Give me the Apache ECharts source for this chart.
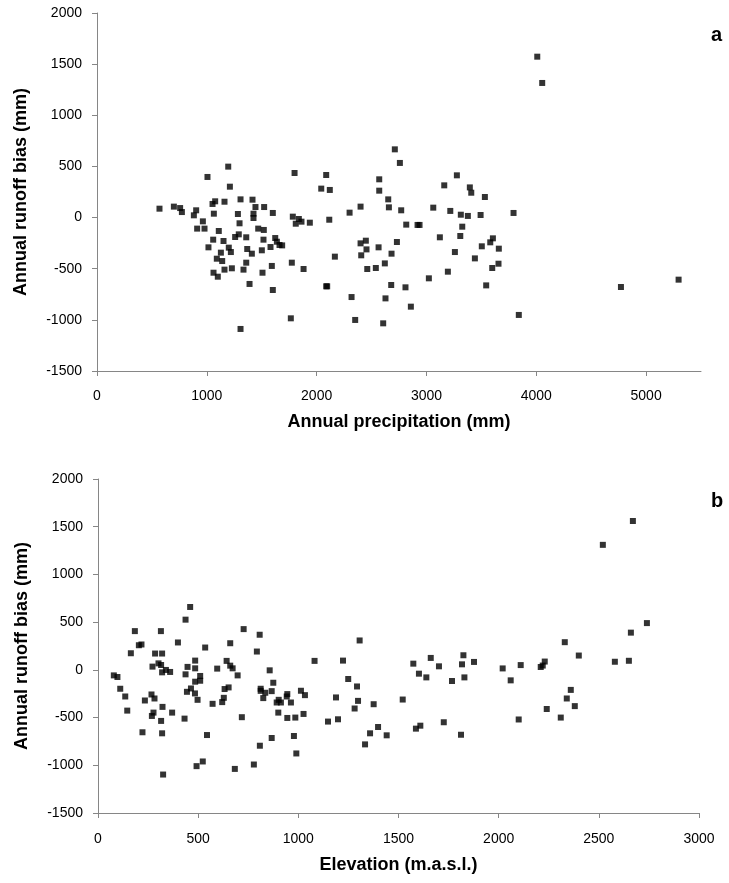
<!DOCTYPE html>
<html>
<head>
<meta charset="utf-8">
<script src="https://cdn.jsdelivr.net/npm/echarts@6/dist/echarts.min.js"></script>
<style>
  html, body { margin: 0; padding: 0; background: #fff; }
  #chart { width: 729px; height: 883px; }
</style>
</head>
<body>
<div id="chart"></div>
<script>
// panel a: annual precipitation (mm) vs runoff bias (mm)
var precipA = [569,700,757,773,882,903,964,912,979,1006,1195,1210,1052,1076,1161,1064,1109,1058,1015,1152,
  1200,1128,1219,1091,1140,1061,1100,1161,1228,1307,1416,1443,1522,1283,1425,1425,1601,1298,1291,1258,
  1359,1468,1519,1516,1368,1410,1501,1580,1623,1638,1662,1686,1359,1334,1507,1592,1389,1601,1765,1307,
  1799,1783,1838,1862,1810,1938,1774,1881,
  2087,2042,2120,2115,2300,2400,2166,2087,2096,2318,2351,2712,2758,2570,2570,2652,2658,2770,2816,2919,
  2937,2400,2448,2454,2406,2564,2731,2682,2621,2539,2461,2679,2809,2627,2858,2606,3062,3162,3277,3395,
  3408,3532,3217,3313,3377,3493,3793,3326,3308,3122,3259,3441,3504,3581,3605,3659,3656,3599,3195,3022,
  3544,3841,4009,4054,4771,5296];
var biasA = [87,107,93,54,22,71,-37,-108,-108,397,498,302,133,159,155,38,-131,-216,-291,-229,
  -294,-343,-337,-402,-425,-539,-578,-509,-496,178,175,103,103,35,38,-4,45,-56,-164,-190,
  -193,-108,-121,-216,-307,-353,-320,-288,-200,-236,-268,-272,-441,-509,-539,-473,-649,-708,-985,-1089,
  436,9,-14,-40,-60,-50,-441,-503,
  416,283,270,-21,48,107,-382,-672,-672,-777,-1001,667,534,374,263,178,100,71,-69,-72,
  -72,-252,-226,-311,-369,-291,-239,-353,-448,-493,-503,-659,-682,-790,-871,-1034,97,315,413,295,
  243,201,65,28,16,25,45,-89,-180,-193,-337,-399,-281,-242,-203,-304,-451,-493,-529,-594,
  -663,-952,1573,1316,-679,-607];

// panel b: elevation (m.a.s.l.) vs runoff bias (mm)
var elevB = [79,97,111,136,146,164,184,204,217,222,234,267,282,272,285,314,320,302,315,320,
  339,360,269,277,315,322,320,325,370,399,437,460,447,437,444,464,485,485,510,485,
  510,484,497,432,535,544,492,523,595,572,620,628,632,652,642,660,672,660,697,718,
  727,683,778,793,807,812,812,825,835,808,857,875,867,867,892,913,902,900,942,945,
  945,963,985,978,990,1013,1033,1026,1081,1148,1188,1198,1223,1249,1293,1298,1281,1306,1376,1358,
  1398,1333,1441,1521,1574,1602,1639,1661,1702,1767,1824,1817,1829,1877,1587,1609,1726,1812,
  2020,2060,2100,2110,2210,2220,2230,2240,2310,2330,2340,2360,2380,2400,2520,2580,2650,2660,2670,2740];
var biasB = [-58,-75,-198,-279,-427,174,406,258,266,-654,-321,-258,-300,34,171,406,171,68,51,-26,
  -1,-22,-483,-448,-535,-388,-665,-1097,-448,287,526,659,31,-47,-230,-195,97,16,-64,-124,
  -114,-247,-314,-511,234,-683,-1009,-960,13,-356,-338,-293,-201,-184,94,44,16,279,-58,-496,
  427,-1038,-992,192,368,-198,-220,-296,-240,-795,-5,-135,-223,-714,-342,-342,-314,-448,-279,-504,
  -254,-342,-500,-693,-876,-219,-265,-462,94,-542,-289,-518,97,-96,-174,-325,-405,308,-360,-665,
  -599,-781,-686,-311,65,-40,-79,125,37,-117,153,58,-79,83,-616,-585,-549,-680,
  15,-110,-520,50,30,45,87,-410,-500,290,-300,-210,-380,150,1310,85,95,390,1560,490];

var ticksA = [0,1000,2000,3000,4000,5000];

function zip(xs, ys){
    var out = [];
    for (var i = 0; i < xs.length; i++) out.push([xs[i], ys[i]]);
    return out;
}

var font = 'Liberation Sans';
var axisColor = '#868686';
function plain(v){ return String(v); }

function yAxisCfg(gridIndex){
    return {
        gridIndex: gridIndex,
        type: 'value',
        min: -1500, max: 2000, interval: 500,
        name: 'Annual runoff bias (mm)',
        nameLocation: 'middle',
        nameGap: 67,
        nameTextStyle: {fontFamily: font, fontSize: 18, fontWeight: 'bold', color: '#000'},
        axisLine: {show: true, lineStyle: {color: axisColor, width: 1}},
        axisTick: {show: true, inside: false, length: 5, lineStyle: {color: axisColor}},
        axisLabel: {fontFamily: font, fontSize: 14, color: '#000', margin: 15, formatter: plain},
        splitLine: {show: false}
    };
}

var option = {
    animation: false,
    backgroundColor: '#fff',
    title: [
        {text: 'a', left: 706, top: 20, textStyle: {fontFamily: font, fontSize: 20, fontWeight: 'bold', color: '#000'}},
        {text: 'b', left: 706, top: 486, textStyle: {fontFamily: font, fontSize: 20, fontWeight: 'bold', color: '#000'}}
    ],
    grid: [
        {left: 97, top: 13, width: 604, height: 358},
        {left: 98, top: 479, width: 601, height: 334}
    ],
    xAxis: [
        {
            gridIndex: 0,
            type: 'value',
            min: 0, max: 5500,
            name: 'Annual precipitation (mm)',
            nameLocation: 'middle',
            nameGap: 42,
            nameTextStyle: {fontFamily: font, fontSize: 18, fontWeight: 'bold', color: '#000'},
            axisLine: {show: true, onZero: false, lineStyle: {color: axisColor, width: 1}},
            axisTick: {show: true, length: 5, customValues: ticksA, lineStyle: {color: axisColor}},
            axisLabel: {fontFamily: font, fontSize: 14, color: '#000', margin: 18, customValues: ticksA, formatter: plain},
            splitLine: {show: false}
        },
        {
            gridIndex: 1,
            type: 'value',
            min: 0, max: 3000, interval: 500,
            name: 'Elevation (m.a.s.l.)',
            nameLocation: 'middle',
            nameGap: 43,
            nameTextStyle: {fontFamily: font, fontSize: 18, fontWeight: 'bold', color: '#000'},
            axisLine: {show: true, onZero: false, lineStyle: {color: axisColor, width: 1}},
            axisTick: {show: true, length: 5, lineStyle: {color: axisColor}},
            axisLabel: {fontFamily: font, fontSize: 14, color: '#000', margin: 19, formatter: plain},
            splitLine: {show: false}
        }
    ],
    yAxis: [yAxisCfg(0), yAxisCfg(1)],
    series: [
        {
            type: 'scatter',
            xAxisIndex: 0, yAxisIndex: 0,
            symbol: 'rect', symbolSize: 6,
            itemStyle: {color: '#000'},
            data: zip(precipA, biasA)
        },
        {
            type: 'scatter',
            xAxisIndex: 1, yAxisIndex: 1,
            symbol: 'rect', symbolSize: 6,
            itemStyle: {color: '#000'},
            data: zip(elevB, biasB)
        }
    ]
};

var chart = echarts.init(document.getElementById('chart'));
chart.setOption(option);
</script>
</body>
</html>
